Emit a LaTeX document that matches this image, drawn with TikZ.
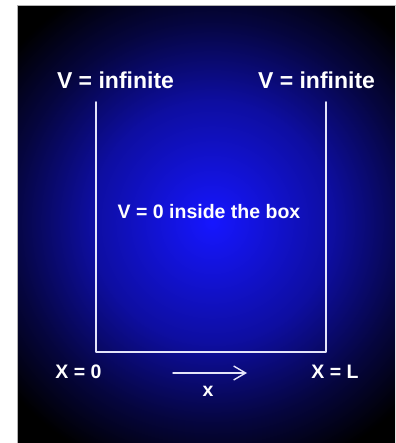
\documentclass[tikz,border=0pt]{standalone}
\usepackage{fontspec}
\setmainfont{Liberation Sans}
\usetikzlibrary{arrows.meta}

\definecolor{glowblue}{RGB}{22,22,255}
\definecolor{wallwhite}{RGB}{228,228,250}
\pgfdeclareradialshading{boxglow}{\pgfpoint{0bp}{0bp}}{%
  color(0bp)=(glowblue); color(9.4bp)=(glowblue!63!black);
  color(15.6bp)=(glowblue!25!black); color(20.5bp)=(black);
  color(50bp)=(black)}

\tikzset{
  big text/.style={text=white, font=\fontsize{23}{26}\selectfont\bfseries, inner sep=0pt},
  label text/.style={text=white, font=\fontsize{19.5}{22}\selectfont\bfseries, inner sep=0pt},
  wall/.style={draw=wallwhite, line width=1.8pt}
}

\begin{document}
\begin{tikzpicture}[x=1pt, y=-1pt, >={Straight Barb[length=12pt, width=14pt]}, line cap=round, line join=round]

\useasboundingbox (0,0) rectangle (395,443);

% ---------- Background ----------
\begin{scope}
  \clip (18,6) rectangle (395,443);
  \fill[black] (18,6) rectangle (395,443);
  \shade[shading=boxglow] (212,222) circle (320);
\end{scope}
\draw[gray!60, line width=1pt] (17.5,443) -- (17.5,5.5) -- (395,5.5);

% ---------- Box walls ----------
\coordinate (wallLtop) at (96,102);
\coordinate (wallLbot) at (96,352);
\coordinate (wallRbot) at (326,352);
\coordinate (wallRtop) at (326,102);

\draw[wall] (wallLtop) -- (wallLbot) -- (wallRbot) -- (wallRtop);

% ---------- Potentials ----------
\node[big text] (vinfL) at (115.5,80) {V = infinite};
\node[big text] (vinfR) at (316.5,80) {V = infinite};
\node[label text] (vzero) at (209,212) {V = 0 inside the box};

% ---------- Axis ----------
\node[label text] (xzero) at (78.5,372) {X = 0};
\node[label text] (xend) at (335,372) {X = L};

\coordinate (xstart) at (173,373);
\coordinate (xstop) at (247,373);
\draw[->, wallwhite, line width=1.4pt] (xstart) -- (xstop);
\node[label text] (xlabel) at (208,391) {x};

\end{tikzpicture}
\end{document}
